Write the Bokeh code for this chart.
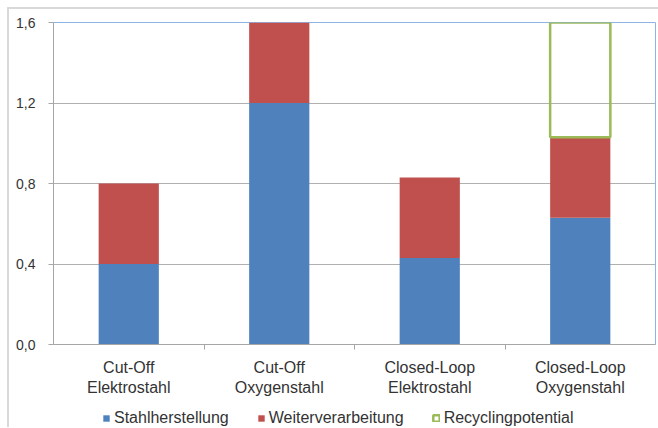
from bokeh.plotting import figure
from bokeh.layouts import column
from bokeh.models import FixedTicker, Legend, LegendItem, ColumnDataSource, Range1d
from bokeh.embed import file_html
from bokeh.resources import INLINE

categories = ["Cut-Off\nElektrostahl", "Cut-Off\nOxygenstahl",
              "Closed-Loop\nElektrostahl", "Closed-Loop\nOxygenstahl"]
stahlherstellung = [0.40, 1.20, 0.43, 0.63]
weiterverarbeitung = [0.40, 0.40, 0.40, 0.40]
recyclingpotential = [0.0, 0.0, 0.0, 0.57]
series_names = ["Stahlherstellung", "Weiterverarbeitung", "Recyclingpotential"]
y_ticks = [0.0, 0.4, 0.8, 1.2, 1.6]
y_tick_labels = ["0,0", "0,4", "0,8", "1,2", "1,6"]

BLUE = "#4f81bd"
RED = "#c0504d"
GREEN = "#9bbb59"
TEXT = "#333333"
FONT = "Liberation Sans"

n = len(categories)
xs = [i + 0.5 for i in range(n)]
top1 = stahlherstellung
top2 = [a + b for a, b in zip(stahlherstellung, weiterverarbeitung)]
top3 = [a + b for a, b in zip(top2, recyclingpotential)]

src = ColumnDataSource(dict(x=xs, b0=[0] * n, t1=top1, t2=top2))
idx = [i for i in range(n) if recyclingpotential[i] > 0]
src_r = ColumnDataSource(dict(x=[xs[i] for i in idx], b=[top2[i] for i in idx],
                              t=[top3[i] for i in idx]))

p = figure(width=649, height=391, output_backend="svg", toolbar_location=None,
           x_range=Range1d(0, n), y_range=Range1d(0, 1.6),
           min_border_left=44, min_border_right=3, min_border_top=13, min_border_bottom=56)

W = 0.4
p.vbar(x="x", bottom="b0", top="t1", width=W, source=src, fill_color=BLUE, line_color=None)
p.vbar(x="x", bottom="t1", top="t2", width=W, source=src, fill_color=RED, line_color=None)
p.vbar(x="x", bottom="b", top="t", width=W, source=src_r, fill_color=None,
       line_color=GREEN, line_width=2.5)

p.outline_line_color = "#8eb4e3"
p.background_fill_color = "white"
p.border_fill_color = "white"

# y axis
p.yaxis.ticker = FixedTicker(ticks=y_ticks)
p.yaxis.major_label_overrides = {t: l for t, l in zip(y_ticks, y_tick_labels)}
p.yaxis.major_tick_out = 5
p.yaxis.major_tick_in = 0
p.yaxis.minor_tick_line_color = None
p.yaxis.axis_line_color = "#a6a6a6"
p.yaxis.major_tick_line_color = "#a6a6a6"
p.yaxis.major_label_text_font = FONT
p.yaxis.major_label_text_font_size = "14px"
p.yaxis.major_label_text_color = TEXT
p.yaxis.major_label_standoff = 13

p.ygrid.ticker = FixedTicker(ticks=y_ticks)
p.ygrid.grid_line_color = "#b0b0b0"
p.xgrid.grid_line_color = None

# x axis
p.xaxis.ticker = FixedTicker(ticks=xs, minor_ticks=list(range(1, n)))
p.xaxis.major_label_overrides = {x: c for x, c in zip(xs, categories)}
p.xaxis.major_tick_line_color = None
p.xaxis.major_tick_out = 0
p.xaxis.major_tick_in = 0
p.xaxis.minor_tick_out = 5
p.xaxis.minor_tick_in = 0
p.xaxis.minor_tick_line_color = "#a6a6a6"
p.xaxis.axis_line_color = "#a6a6a6"
p.xaxis.major_label_text_font = FONT
p.xaxis.major_label_text_font_size = "16px"
p.xaxis.major_label_text_color = TEXT
p.xaxis.major_label_standoff = 9

# legend strip below the chart (swatch-only renderers, nothing plotted)
p2 = figure(width=649, height=27, output_backend="svg", toolbar_location=None,
            x_axis_type=None, y_axis_type=None, x_range=Range1d(0, 1), y_range=Range1d(0, 1),
            min_border=0)
p2.outline_line_color = None
p2.grid.visible = False
nan = [float("nan")]
e1 = p2.vbar(x=nan, top=nan, width=W, fill_color=BLUE, line_color=None)
e2 = p2.vbar(x=nan, top=nan, width=W, fill_color=RED, line_color=None)
e3 = p2.vbar(x=nan, top=nan, width=W, fill_color=None, line_color=GREEN, line_width=2.5)

legend = Legend(items=[LegendItem(label=series_names[0], renderers=[e1]),
                       LegendItem(label=series_names[1], renderers=[e2]),
                       LegendItem(label=series_names[2], renderers=[e3])],
                orientation="horizontal", location=(49, 0),
                glyph_width=8, glyph_height=8, label_standoff=4, spacing=28,
                padding=0, margin=0, border_line_color=None, background_fill_alpha=0,
                label_text_font=FONT, label_text_font_size="16px", label_text_color=TEXT)
p2.add_layout(legend, "center")

layout = column(p, p2, spacing=0)
layout.styles = {"margin-left": "7px", "margin-top": "7px",
                 "border-left": "2px solid #d9d9d9", "border-top": "2px solid #d9d9d9"}

open("out.html", "w").write(file_html(layout, INLINE))
